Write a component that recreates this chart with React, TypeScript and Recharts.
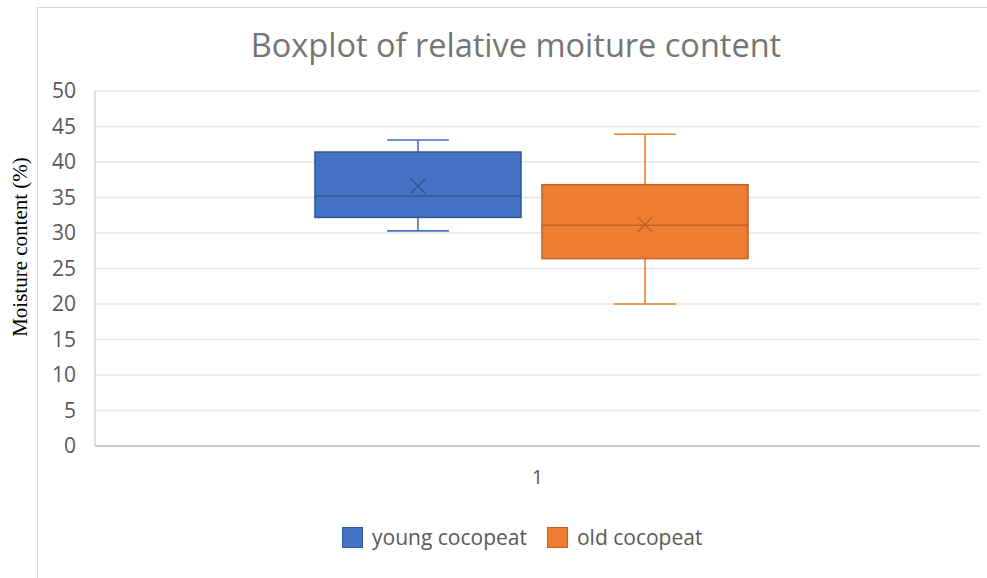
import React from "react";
import { ComposedChart, Bar, XAxis, YAxis, CartesianGrid } from "recharts";

const categories = ["1"];
const seriesNames = ["young cocopeat", "old cocopeat"];
const seriesKeys = ["young", "old"];
const fillColors = ["#4472C4", "#ED7D31"];
const edgeColors = ["#34589A", "#C4622A"];
const minValues = [30.3, 20.0];
const q1Values = [32.2, 26.4];
const medianValues = [35.2, 31.1];
const q3Values = [41.4, 36.8];
const maxValues = [43.1, 43.9];
const meanValues = [36.6, 31.2];
const yTicks = [0, 5, 10, 15, 20, 25, 30, 35, 40, 45, 50];

const data = categories.map((c) => {
  const row: any = { name: c };
  seriesKeys.forEach((k, i) => {
    row[k] = [q1Values[i], q3Values[i]];
  });
  return row;
});

const FONT = "'Open Sans', 'Noto Sans', sans-serif";

function makeBoxShape(si: number) {
  return (props: any) => {
    const { x, y, width, height } = props;
    const lo = q1Values[si];
    const hi = q3Values[si];
    const k = height / (hi - lo);
    const py = (v: number) => y + (hi - v) * k;
    const cx = x + width / 2;
    const capHalf = width * 0.15;
    const fill = fillColors[si];
    const edge = edgeColors[si];
    const yMax = py(maxValues[si]);
    const yMin = py(minValues[si]);
    const yMed = py(medianValues[si]);
    const yMean = py(meanValues[si]);
    const m = 7.5;
    return (
      <g>
        <line x1={cx} x2={cx} y1={yMax} y2={y} stroke={fill} strokeWidth={1.6} />
        <line x1={cx - capHalf} x2={cx + capHalf} y1={yMax} y2={yMax} stroke={fill} strokeWidth={1.6} />
        <line x1={cx} x2={cx} y1={y + height} y2={yMin} stroke={fill} strokeWidth={1.6} />
        <line x1={cx - capHalf} x2={cx + capHalf} y1={yMin} y2={yMin} stroke={fill} strokeWidth={1.6} />
        <rect x={x} y={y} width={width} height={height} fill={fill} stroke={edge} strokeWidth={1.6} />
        <line x1={x} x2={x + width} y1={yMed} y2={yMed} stroke={edge} strokeWidth={1.6} />
        <line x1={cx - m} x2={cx + m} y1={yMean - m} y2={yMean + m} stroke={edge} strokeWidth={1.6} />
        <line x1={cx - m} x2={cx + m} y1={yMean + m} y2={yMean - m} stroke={edge} strokeWidth={1.6} />
      </g>
    );
  };
}

export default function App() {
  return (
    <div style={{ position: "absolute", left: 0, top: 0, width: 987, height: 578, overflow: "hidden", background: "#fff" }}>
      <div
        style={{
          position: "absolute",
          left: 37,
          top: 7,
          width: 1000,
          height: 600,
          border: "1px solid #d9d9d9",
          boxSizing: "border-box",
        }}
      />
      <div style={{ position: "absolute", left: 0, top: 0 }}>
        <ComposedChart
          width={987}
          height={578}
          data={data}
          margin={{ top: 91, right: 7, bottom: 102, left: 38 }}
          barSize={206}
          barGap={21}
        >
          <CartesianGrid vertical={false} stroke="#e6e6e6" strokeWidth={1.3} />
          <XAxis
            dataKey="name"
            height={30}
            padding={{ left: 0, right: 12 }}
            axisLine={{ stroke: "#bfbfbf", strokeWidth: 1.5 }}
            tickLine={false}
            tickSize={0}
            tickMargin={24}
            tick={{ fill: "#595959", fontSize: 20, fontFamily: FONT, dx: 6 }}
          />
          <YAxis
            type="number"
            domain={[0, 50]}
            ticks={yTicks}
            interval={0}
            width={57}
            axisLine={{ stroke: "#d0d0d0", strokeWidth: 1.3 }}
            tickLine={false}
            tickSize={0}
            tickMargin={19}
            tick={{ fill: "#595959", fontSize: 21, fontFamily: FONT }}
          />
          {seriesKeys.map((k, i) => (
            <Bar
              key={k}
              dataKey={k}
              name={seriesNames[i]}
              fill={fillColors[i]}
              shape={makeBoxShape(i)}
              isAnimationActive={false}
            />
          ))}
        </ComposedChart>
      </div>
      <svg width={987} height={578} style={{ position: "absolute", left: 0, top: 0, pointerEvents: "none" }}>
        <text x={516} y={57} textAnchor="middle" fill="#757575" fontSize={32.5} fontFamily={FONT}>
          Boxplot of relative moiture content
        </text>
        <text
          x={27}
          y={247}
          transform="rotate(-90 27 247)"
          textAnchor="middle"
          fill="#000"
          fontSize={21}
          fontFamily="'Liberation Serif', 'Times New Roman', serif"
        >
          Moisture content (%)
        </text>
      </svg>
      <div style={{ position: "absolute", left: 342, top: 524, display: "flex", alignItems: "center", fontFamily: FONT, fontSize: 21, color: "#595959" }}>
        {seriesNames.map((n, i) => (
          <div key={n} style={{ display: "flex", alignItems: "center", marginRight: i === 0 ? 20 : 0 }}>
            <span
              style={{
                display: "inline-block",
                width: 21,
                height: 21,
                background: fillColors[i],
                border: `1px solid ${edgeColors[i]}`,
                boxSizing: "border-box",
                marginRight: 9,
              }}
            />
            <span style={{ lineHeight: "26px" }}>{n}</span>
          </div>
        ))}
      </div>
    </div>
  );
}
